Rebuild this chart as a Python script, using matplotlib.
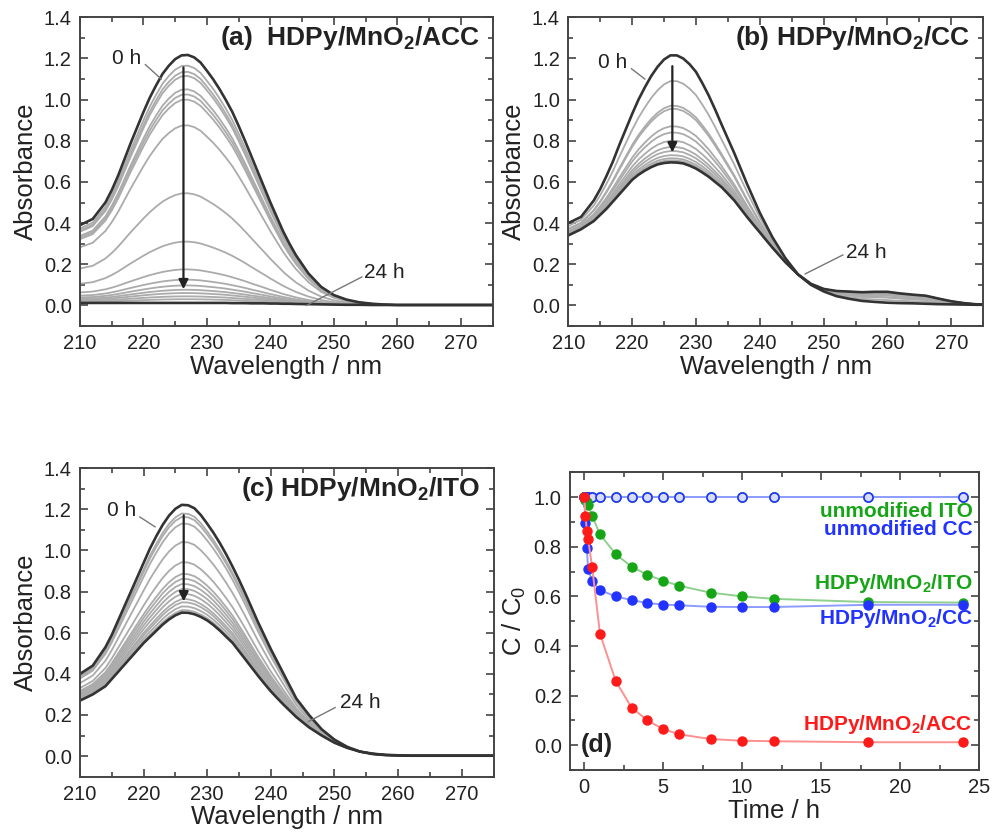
import numpy as np
import matplotlib
matplotlib.use("Agg")
import matplotlib.pyplot as plt
from matplotlib.ticker import MultipleLocator, FormatStrFormatter

plt.rcParams["font.family"] = ["Liberation Sans", "DejaVu Sans"]
plt.rcParams["mathtext.fontset"] = "custom"
plt.rcParams["mathtext.rm"] = "Liberation Sans"
plt.rcParams["mathtext.bf"] = "Liberation Sans:bold"
plt.rcParams["mathtext.it"] = "Liberation Sans:italic"

# ---- spectra (1 nm steps around the band) ----
wavelength = [210, 212] + list(range(214, 245)) + list(range(246, 277, 2))

acc_0h = [0.39, 0.42,
          0.50, 0.56, 0.63, 0.71, 0.79, 0.865, 0.94, 1.01, 1.07, 1.125, 1.165,
          1.197, 1.215, 1.217, 1.205, 1.18, 1.14, 1.098, 1.05, 0.997, 0.94,
          0.872, 0.80, 0.725, 0.65, 0.575, 0.50, 0.43, 0.36, 0.30, 0.245,
          0.155, 0.09, 0.05, 0.028, 0.015, 0.008, 0.004, 0.002, 0.002, 0.002,
          0.002, 0.002, 0.002, 0.002, 0.002, 0.002]
acc_24h = [0.012, 0.012] + [0.012] * 20 + [0.011, 0.011, 0.011, 0.010, 0.010,
           0.010, 0.009, 0.009, 0.008, 0.008, 0.007] + [0.006, 0.005, 0.004,
           0.003, 0.003] + [0.002] * 11
acc_peaks = [1.165, 1.135, 1.115, 1.05, 1.025, 1.0, 0.875, 0.545, 0.31, 0.175,
             0.125, 0.097, 0.076, 0.06, 0.044, 0.03]

cc_0h = [0.40, 0.43,
         0.51, 0.565, 0.63, 0.70, 0.78, 0.855, 0.93, 1.0, 1.06, 1.115, 1.16,
         1.195, 1.215, 1.215, 1.20, 1.172, 1.135, 1.08, 1.02, 0.952, 0.88, 0.81,
         0.74, 0.665, 0.59, 0.52, 0.45, 0.39, 0.33, 0.28, 0.23,
         0.15, 0.10, 0.068, 0.045, 0.032, 0.022, 0.017, 0.013, 0.011, 0.010,
         0.008, 0.006, 0.005, 0.004, 0.003, 0.003]
cc_24h = [0.34, 0.37,
          0.41, 0.44, 0.47, 0.505, 0.54, 0.575, 0.61, 0.635, 0.655, 0.672, 0.685,
          0.692, 0.695, 0.694, 0.69, 0.679, 0.665, 0.646, 0.625, 0.60, 0.575,
          0.543, 0.51, 0.47, 0.43, 0.392, 0.355, 0.317, 0.28, 0.245, 0.21,
          0.15, 0.105, 0.08, 0.07, 0.067, 0.064, 0.066, 0.066, 0.058, 0.052,
          0.047, 0.033, 0.02, 0.011, 0.005, 0.004]
cc_peaks = [1.09, 0.97, 0.955, 0.87, 0.84, 0.80, 0.77, 0.75, 0.73, 0.715, 0.705,
            0.70]

ito_0h = [0.40, 0.44,
          0.53, 0.59, 0.66, 0.73, 0.80, 0.87, 0.94, 1.01, 1.07, 1.125, 1.17,
          1.203, 1.222, 1.22, 1.205, 1.172, 1.13, 1.085, 1.035, 0.98, 0.92,
          0.857, 0.79, 0.72, 0.65, 0.585, 0.52, 0.46, 0.40, 0.34, 0.28,
          0.20, 0.13, 0.08, 0.045, 0.022, 0.010, 0.005, 0.003, 0.002, 0.002,
          0.002, 0.002, 0.002, 0.002, 0.002, 0.002]
ito_24h = [0.27, 0.30,
           0.34, 0.375, 0.41, 0.445, 0.48, 0.515, 0.55, 0.58, 0.61, 0.64, 0.665,
           0.685, 0.698, 0.697, 0.69, 0.677, 0.66, 0.637, 0.61, 0.58, 0.55, 0.51,
           0.47, 0.43, 0.39, 0.352, 0.315, 0.282, 0.25, 0.22, 0.19,
           0.14, 0.10, 0.065, 0.04, 0.022, 0.012, 0.006, 0.004, 0.002, 0.002,
           0.002, 0.002, 0.002, 0.002, 0.002, 0.002]
ito_peaks = [1.18, 1.163, 1.131, 1.041, 0.943, 0.886, 0.862, 0.837, 0.813, 0.789,
             0.764, 0.748, 0.728, 0.71]

# ---- kinetics (panel d) ----
time_h = [0, 0.083, 0.167, 0.25, 0.5, 1, 2, 3, 4, 5, 6, 8, 10, 12, 18, 24]
c_acc = [1.0, 0.925, 0.865, 0.83, 0.72, 0.45, 0.258, 0.152, 0.10, 0.065, 0.044,
         0.025, 0.018, 0.016, 0.012, 0.012]
c_cc = [1.0, 0.897, 0.794, 0.712, 0.66, 0.625, 0.60, 0.585, 0.573, 0.567, 0.564,
        0.558, 0.557, 0.557, 0.566, 0.566]
c_ito = [1.0, 0.99, 0.98, 0.969, 0.925, 0.85, 0.77, 0.72, 0.687, 0.663, 0.643,
         0.615, 0.60, 0.59, 0.577, 0.575]
c_bare_ito = [1.0] * len(time_h)
c_bare_cc = [1.0] * len(time_h)

TXT = "#222222"
RED, GREEN, BLUE = "#ff1a1a", "#16a516", "#2233ff"


def style_axes(ax):
    for s in ax.spines.values():
        s.set_color("#444444")
        s.set_linewidth(1.4)
    ax.tick_params(which="both", direction="in", top=True, right=True,
                   width=1.2, color="#444444", labelcolor=TXT, labelsize=14.5)
    ax.tick_params(which="major", length=6, pad=6)
    ax.tick_params(which="minor", length=3.5)


def draw_spectra(ax, a0, a24, peaks, title, ann):
    a0 = np.array(a0)
    a24 = np.array(a24)
    p0, p24 = a0.max(), a24.max()
    # intermediate spectra between the 0 h and 24 h traces, by their peak height
    for p in peaks:
        frac = (p - p24) / (p0 - p24)
        ax.plot(wavelength, a24 + frac * (a0 - a24), color="#ababab", lw=1.3)
    ax.plot(wavelength, a0, color="#333333", lw=1.9)
    ax.plot(wavelength, a24, color="#333333", lw=1.9)

    ax.set_xlim(210, 275)
    ax.set_ylim(-0.1, 1.4)
    ax.xaxis.set_major_locator(MultipleLocator(10))
    ax.xaxis.set_minor_locator(MultipleLocator(5))
    ax.yaxis.set_major_locator(MultipleLocator(0.2))
    ax.yaxis.set_minor_locator(MultipleLocator(0.1))
    ax.yaxis.set_major_formatter(FormatStrFormatter("%.1f"))
    style_axes(ax)
    ax.set_xlabel("Wavelength / nm", fontsize=18.5, color=TXT, labelpad=1)
    ax.set_ylabel("Absorbance", fontsize=18.5, color=TXT, labelpad=4)

    ax.text(273, 1.30, title, ha="right", va="center", fontsize=19,
            fontweight="bold", color=TXT)

    # 0 h label with leader
    ax.text(ann["t0"][0], ann["t0"][1], "0 h", fontsize=15, color=TXT,
            va="center", ha="left")
    ax.plot(ann["l0"][0], ann["l0"][1], color="#777777", lw=1.0)
    # 24 h label with leader
    ax.text(ann["t24"][0], ann["t24"][1], "24 h", fontsize=15, color=TXT,
            va="center", ha="left")
    ax.plot(ann["l24"][0], ann["l24"][1], color="#777777", lw=1.0)
    # arrow
    ax.annotate("", xy=(226.3, ann["arrow"][1]), xytext=(226.3, ann["arrow"][0]),
                arrowprops=dict(arrowstyle="-|>", color="#222222", lw=1.6,
                                mutation_scale=14))


fig = plt.figure(figsize=(9.94, 8.32), dpi=100)

ax_a = fig.add_axes([0.0805, 0.6082, 0.415, 0.371])
ax_b = fig.add_axes([0.5717, 0.6082, 0.4175, 0.371])
ax_c = fig.add_axes([0.0805, 0.0665, 0.416, 0.3707])
ax_d = fig.add_axes([0.5734, 0.0745, 0.4115, 0.3578])

draw_spectra(ax_a, acc_0h, acc_24h, acc_peaks,
             r"(a)  HDPy/MnO$_\mathbf{2}$/ACC",
             dict(t0=(215, 1.20), l0=([220.3, 222.8], [1.17, 1.10]),
                  t24=(254.8, 0.162), l24=([254.4, 245.7], [0.138, 0.0]),
                  arrow=(1.17, 0.065)))
draw_spectra(ax_b, cc_0h, cc_24h, cc_peaks,
             r"(b) HDPy/MnO$_\mathbf{2}$/CC",
             dict(t0=(214.6, 1.18), l0=([219.9, 222.0], [1.15, 1.10]),
                  t24=(253.5, 0.257), l24=([253.0, 247.1], [0.245, 0.153]),
                  arrow=(1.176, 0.73)))
draw_spectra(ax_c, ito_0h, ito_24h, ito_peaks,
             r"(c) HDPy/MnO$_\mathbf{2}$/ITO",
             dict(t0=(214.2, 1.196), l0=([219.4, 221.8], [1.163, 1.115]),
                  t24=(250.8, 0.26), l24=([250.1, 245.9], [0.236, 0.168]),
                  arrow=(1.185, 0.739)))

# ---- panel d ----
ax_d.plot(time_h, c_bare_ito, color="#8fd08f", lw=1.4, marker="o", ms=6.5,
          mfc="#d8f0d8", mec=GREEN, mew=1.2)
ax_d.plot(time_h, c_bare_cc, color="#8f9cff", lw=1.4, marker="o", ms=6.5,
          mfc="#d8dcff", mec=BLUE, mew=1.2)
ax_d.plot(time_h, c_ito, color="#8fd08f", lw=1.4, marker="o", ms=6.5,
          mfc=GREEN, mec=GREEN)
ax_d.plot(time_h, c_cc, color="#8f9cff", lw=1.4, marker="o", ms=6.5,
          mfc=BLUE, mec=BLUE)
ax_d.plot(time_h, c_acc, color="#ff9090", lw=1.4, marker="o", ms=6.5,
          mfc=RED, mec=RED)

ax_d.set_xlim(-0.9, 25)
ax_d.set_ylim(-0.1, 1.1)
ax_d.xaxis.set_major_locator(MultipleLocator(5))
ax_d.xaxis.set_minor_locator(MultipleLocator(2.5))
ax_d.yaxis.set_major_locator(MultipleLocator(0.2))
ax_d.yaxis.set_minor_locator(MultipleLocator(0.1))
ax_d.yaxis.set_major_formatter(FormatStrFormatter("%.1f"))
style_axes(ax_d)
ax_d.set_xlabel("Time / h", fontsize=18.5, color=TXT, labelpad=1)
ax_d.set_ylabel(r"C / C$_\mathrm{0}$", fontsize=18.5, color=TXT, labelpad=4)

lab = dict(ha="right", va="center", fontsize=15, fontweight="bold")
ax_d.text(24.6, 0.942, "unmodified ITO", color=GREEN, **lab)
ax_d.text(24.6, 0.868, "unmodified CC", color=BLUE, **lab)
ax_d.text(24.6, 0.650, r"HDPy/MnO$_\mathbf{2}$/ITO", color=GREEN, **lab)
ax_d.text(24.6, 0.512, r"HDPy/MnO$_\mathbf{2}$/CC", color=BLUE, **lab)
ax_d.text(24.6, 0.085, r"HDPy/MnO$_\mathbf{2}$/ACC", color=RED, **lab)
ax_d.text(-0.2, 0.0, "(d)", ha="left", va="center", fontsize=18,
          fontweight="bold", color=TXT)

fig.savefig("out.png", dpi=100)
